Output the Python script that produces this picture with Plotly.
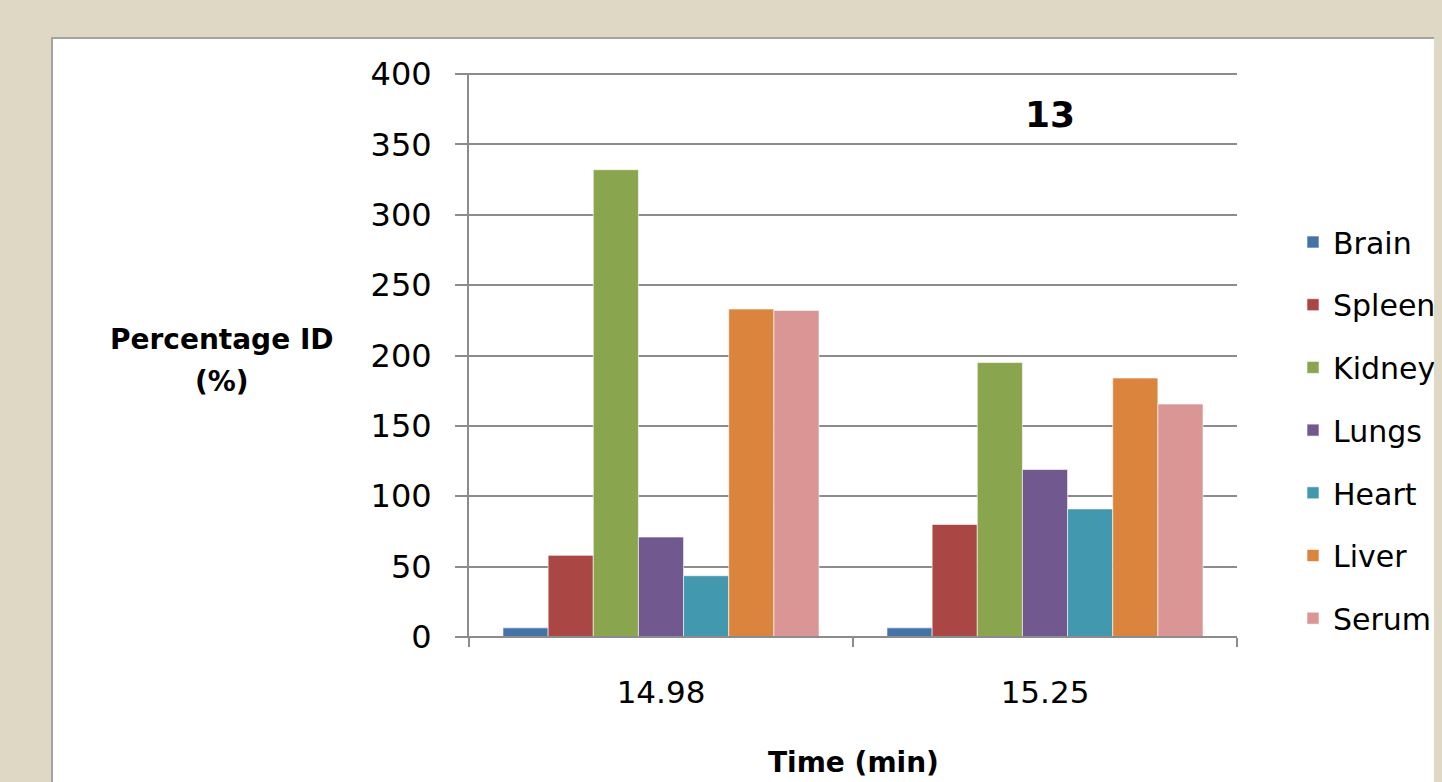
import plotly.graph_objects as go

categories = ["14.98", "15.25"]
organs = ["Brain", "Spleen", "Kidney", "Lungs", "Heart", "Liver", "Serum"]
brain = [6.5, 6.5]
spleen = [58, 80]
kidney = [332, 195]
lungs = [71, 119]
heart = [43.5, 91]
liver = [233, 184]
serum = [232, 165.5]
series_values = [brain, spleen, kidney, lungs, heart, liver, serum]
colors = ["#4572A7", "#AA4643", "#89A54E", "#71588F", "#4198AF", "#DB843D", "#D99694"]
y_ticks = [0, 50, 100, 150, 200, 250, 300, 350, 400]

BG = "#DED8C5"
OFF = 8  # page body margin
W, H = 1442 - OFF, 782 - OFF
# plot area in screen coordinates
L, R, T, B = 469, 1237, 74, 637
pw, ph = R - L, B - T

def px(x):
    return (x - L) / pw

def py(y):
    return (B - y) / ph

fig = go.Figure()
for i, (name, vals) in enumerate(zip(organs, series_values)):
    fig.add_trace(go.Bar(
        x=categories, y=vals, name=name, legendgroup=name,
        marker=dict(color=colors[i], line=dict(color="rgba(255,255,255,0.6)", width=1)),
    ))

font_main = "'DejaVu Sans', sans-serif"
grid = "#8C8C8C"

fig.update_layout(
    width=W, height=H,
    margin=dict(l=L - OFF, r=W + OFF - R, t=T - OFF, b=H + OFF - B, autoexpand=False),
    paper_bgcolor=BG,
    plot_bgcolor="rgba(0,0,0,0)",
    barmode="group",
    bargap=0.177,
    bargroupgap=0,
    font=dict(family=font_main, color="#000000"),
    showlegend=True,
    legend=dict(
        x=px(1293), y=py(216), xanchor="left", yanchor="top",
        font=dict(size=30, family=font_main),
        tracegroupgap=20.7, bgcolor="rgba(0,0,0,0)",
        itemwidth=30,
    ),
    xaxis=dict(
        type="category", tickson="boundaries", ticks="outside", ticklen=9,
        tickwidth=2, tickcolor=grid, showline=False, showgrid=False,
        tickfont=dict(size=31, family=font_main), ticklabelstandoff=34,
        range=[-0.5, 1.5],
    ),
    yaxis=dict(
        range=[0, 400], tickvals=y_ticks, ticks="outside", ticklen=12,
        tickwidth=2, tickcolor=grid, showline=True, linecolor=grid,
        linewidth=2, showgrid=True, gridcolor=grid, gridwidth=2,
        zeroline=False, tickfont=dict(size=32, family=font_main),
        ticklabelstandoff=17,
    ),
    shapes=[
        dict(type="rect", xref="paper", yref="paper", layer="below",
             x0=px(52), x1=px(1442 + 60), y0=py(782 + 30), y1=py(38),
             fillcolor="#FFFFFF", line=dict(color="#A3A3A3", width=2)),
        dict(type="line", xref="paper", yref="paper", layer="above",
             x0=px(457), x1=1, y0=0, y1=0, line=dict(color=grid, width=2)),
        dict(type="line", xref="paper", yref="paper", layer="above",
             x0=px(457), x1=1, y0=1, y1=1, line=dict(color=grid, width=2)),
    ],
    annotations=[
        dict(text="<b>13</b>", xref="paper", yref="paper", x=px(1050), y=py(114),
             showarrow=False, font=dict(size=36, family=font_main), xanchor="center", yanchor="middle"),
        dict(text="<b>Percentage ID</b>", xref="paper", yref="paper",
             x=px(222), y=py(339), showarrow=False, align="center",
             font=dict(size=28, family=font_main), xanchor="center", yanchor="middle"),
        dict(text="<b>(%)</b>", xref="paper", yref="paper",
             x=px(222), y=py(382), showarrow=False, align="center",
             font=dict(size=28, family=font_main), xanchor="center", yanchor="middle"),
        dict(text="<b>Time (min)</b>", xref="paper", yref="paper",
             x=px(853), y=py(762), showarrow=False,
             font=dict(size=28, family=font_main), xanchor="center", yanchor="middle"),
    ],
)

fig.write_html(
    "out.html",
    post_script=f"document.body.style.background='{BG}';",
)
